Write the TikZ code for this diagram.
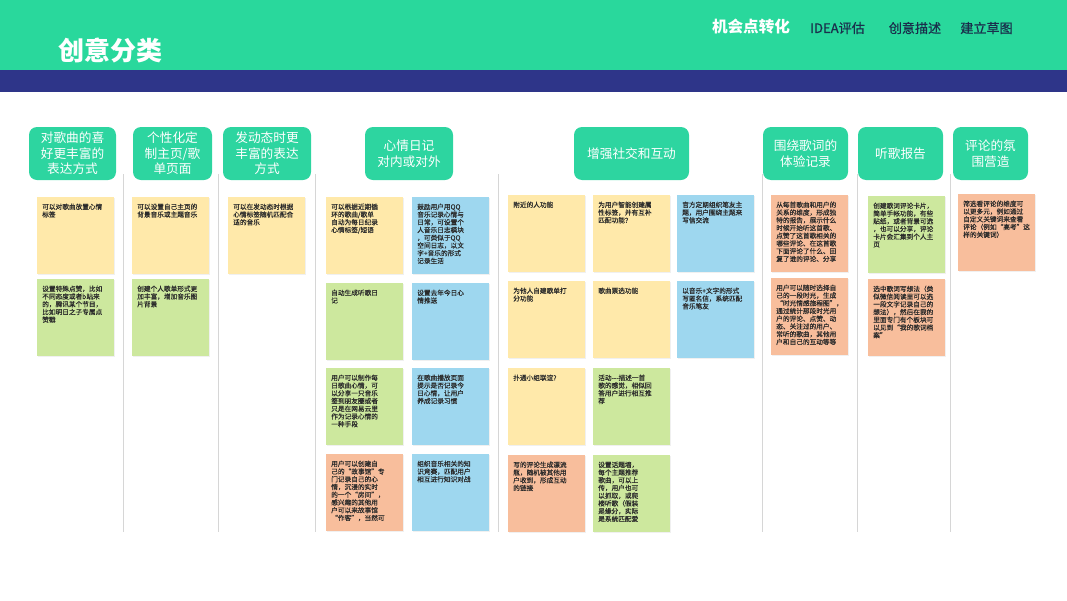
\documentclass[tikz,border=0pt]{standalone}
\usepackage{fontspec}
\setmainfont{Noto Sans CJK SC}
\newfontfamily\notefont[FakeBold=0.35]{Noto Sans CJK SC}
\newfontfamily\navfont[FakeBold=0.6]{Noto Sans CJK SC}
\usetikzlibrary{shadows}
\definecolor{hdrgreen}{HTML}{29D89C}
\definecolor{hdrblue}{HTML}{2E3589}
\definecolor{catgreen}{HTML}{2DD5A0}
\definecolor{navdark}{HTML}{1A2F4C}
\definecolor{ny}{HTML}{FFE9AA}
\definecolor{ng}{HTML}{CDE89E}
\definecolor{nb}{HTML}{9ED7EF}
\definecolor{no}{HTML}{F8BE9C}
\definecolor{ntext}{HTML}{2A2A2A}
\definecolor{sepgray}{HTML}{D6D6D6}
\tikzset{
  stickybox/.style={anchor=north west, inner sep=0, minimum width=57.75pt, minimum height=57.75pt,
    drop shadow={shadow xshift=0.5pt, shadow yshift=-0.7pt, opacity=0.12}},
  stickytext/.style={anchor=north west, inner sep=0, align=left, text=ntext,
    font=\notefont\fontsize{5}{5.8}\selectfont},
  catbox/.style={rounded corners=6pt, fill=catgreen, text=white, align=center, inner sep=0,
    minimum height=39.75pt, font=\fontsize{9.5}{11.6}\selectfont},
  sepline/.style={draw=sepgray, line width=0.75pt},
  navitem/.style={inner sep=0, text=navdark, font=\navfont\fontsize{9.8}{11}\selectfont},
}
\newcommand\stk[5]{%
  \node[stickybox, fill=#4] (#1) at (#2,#3) {};
  \node[stickytext] (#1t) at ([xshift=3.75pt,yshift=-4.8pt]#1.north west) {#5};}
\begin{document}
\begin{tikzpicture}[x=0.75pt, y=-0.75pt]
\useasboundingbox (0,0) rectangle (1067,600);
% header
\fill[hdrgreen] (0,0) rectangle (1067,70);
\fill[hdrblue] (0,70) rectangle (1067,92);
\node[inner sep=0, text=white, font=\fontsize{19.5}{22}\selectfont\bfseries] (title) at (110,50) {创意分类};
\node[inner sep=0, text=white, font=\fontsize{11.7}{13}\selectfont\bfseries] (nav1) at (751,27) {机会点转化};
\node[navitem] (nav2) at (837.5,28) {IDEA评估};
\node[navitem] (nav3) at (915,28) {创意描述};
\node[navitem] (nav4) at (986.5,28) {建立草图};
% category boxes
\node[catbox, minimum width=65.25pt] (k1) at (72.5,153.5) {对歌曲的喜\\好更丰富的\\表达方式};
\node[catbox, minimum width=59.25pt] (k2) at (172.5,153.5) {个性化定\\制主页/歌\\单页面};
\node[catbox, minimum width=66pt] (k3) at (267,153.5) {发动态时更\\丰富的表达\\方式};
\node[catbox, minimum width=66pt] (k4) at (409,153.5) {心情日记\\对内或对外};
\node[catbox, minimum width=86.25pt] (k5) at (631.5,153.5) {增强社交和互动};
\node[catbox, minimum width=63.75pt] (k6) at (805.5,153.5) {围绕歌词的\\体验记录};
\node[catbox, minimum width=63.75pt] (k7) at (900.5,153.5) {听歌报告};
\node[catbox, minimum width=56.25pt] (k8) at (990.5,153.5) {评论的氛\\围营造};
% separators
\foreach \sx in {123,218,315,498,762,857,950}
  \draw[sepline] (\sx,174) -- (\sx,532);
% column 1
\stk{a1}{37}{197}{ny}{可以对歌曲放置心情\\标签}
\stk{a2}{37}{279}{ng}{设置特殊点赞，比如\\不同态度或者b站来\\的，腾讯某个节目，\\比如明日之子专属点\\赞戳}
% column 2
\stk{b1}{132}{197}{ny}{可以设置自己主页的\\背景音乐或主题音乐}
\stk{b2}{132}{279}{ng}{创建个人歌单形式更\\加丰富，增加音乐图\\片背景}
% column 3
\stk{c1}{228}{197}{ny}{可以在发动态时根据\\心情标签随机匹配合\\适的音乐}
% column 4
\stk{d1}{326}{197}{ny}{可以根据近期循\\环的歌曲/歌单\\自动为每日纪录\\心情标签/短语}
\stk{d2}{412}{197}{nb}{鼓励用户用QQ\\音乐记录心情与\\日常，可设置个\\人音乐日志模块\\，可类似于QQ\\空间日志，以文\\字+音乐的形式\\记录生活}
\stk{d3}{326}{283}{ng}{自动生成听歌日\\记}
\stk{d4}{412}{283}{nb}{设置去年今日心\\情推送}
\stk{d5}{326}{368}{ng}{用户可以制作每\\日歌曲心情，可\\以分享一只音乐\\签到朋友圈或者\\只是在网易云里\\作为记录心情的\\一种手段}
\stk{d6}{412}{368}{nb}{在歌曲播放页面\\提示是否记录今\\日心情，让用户\\养成记录习惯}
\stk{d7}{326}{454}{no}{用户可以创建自\\己的“故事馆”专\\门记录自己的心\\情，沉浸的实时\\的一个“房间”，\\感兴趣的其他用\\户可以来故事馆\\“作客”，当然可}
\stk{d8}{412}{454}{nb}{组织音乐相关的知\\识竞赛，匹配用户\\相互进行知识对战}
% column 5
\stk{e1}{508}{195}{ny}{附近的人功能}
\stk{e2}{593}{195}{ny}{为用户智能创建属\\性标签，并有互补\\匹配功能？}
\stk{e3}{677}{195}{nb}{官方定期组织笔友主\\题，用户围绕主题来\\写信交流}
\stk{e4}{508}{281}{ny}{为他人自建歌单打\\分功能}
\stk{e5}{593}{281}{ny}{歌曲票选功能}
\stk{e6}{677}{281}{nb}{以音乐+文字的形式\\写匿名信，系统匹配\\音乐笔友}
\stk{e7}{508}{368}{ny}{扑通小组联谊?}
\stk{e8}{593}{368}{ng}{活动---描述一首\\歌的感觉，相似回\\答用户进行相互推\\荐}
\stk{e9}{508}{455}{no}{写的评论生成漂流\\瓶，随机被其他用\\户收到，形成互动\\的链接}
\stk{e10}{593}{455}{ng}{设置话题墙，\\每个主题推荐\\歌曲，可以上\\传，用户也可\\以抓取，或爬\\楼听歌（假装\\是缘分，实际\\是系统匹配爱}
% column 6
\stk{f1}{771}{195}{no}{从每首歌曲和用户的\\关系的维度，形成独\\特的报告，展示什么\\时候开始听这首歌、\\点赞了这首歌相关的\\哪些评论、在这首歌\\下面评论了什么、回\\复了谁的评论、分享}
\stk{f2}{771}{278}{no}{用户可以随时选择自\\己的一段时光，生成\\“时光情感旅程图”，\\通过统计那段时光用\\户的评论、点赞、动\\态、关注过的用户、\\常听的歌曲，其他用\\户和自己的互动等等}
% column 7
\stk{g1}{868}{196}{ng}{创建歌词评论卡片，\\简单手帐功能，有些\\贴纸，或者背景可选\\，也可以分享，评论\\卡片会汇集到个人主\\页}
\stk{g2}{868}{279}{no}{选中歌词写想法（类\\似微信阅读里可以选\\一段文字记录自己的\\想法），然后在我的\\里面专门有个板块可\\以见到“我的歌词档\\案”}
% column 8
\stk{h1}{958}{194}{no}{筛选看评论的维度可\\以更多元，例如通过\\自定义关键词来查看\\评论（例如“高考”这\\样的关键词）}
\end{tikzpicture}
\end{document}
